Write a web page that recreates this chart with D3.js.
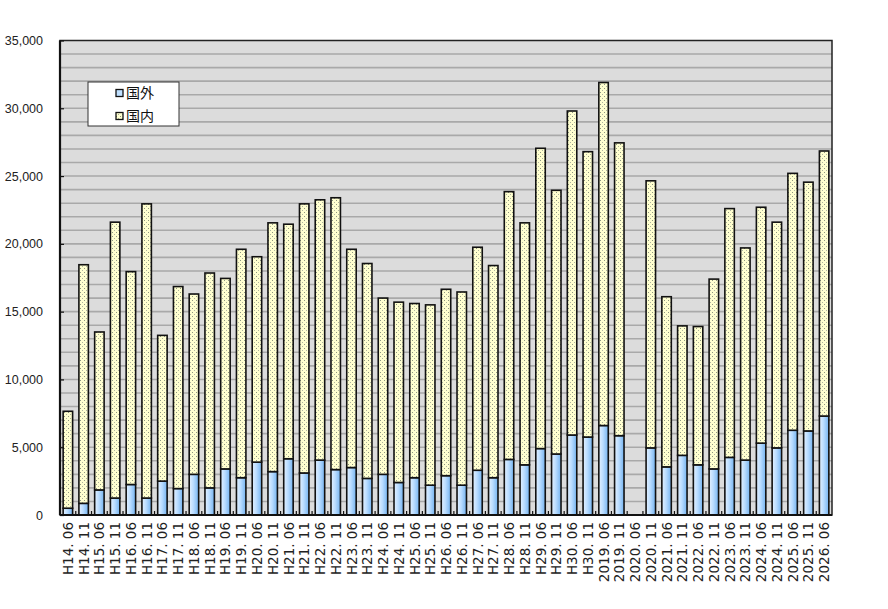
<!DOCTYPE html>
<html><head><meta charset="utf-8">
<script src="https://cdn.jsdelivr.net/npm/d3@7"></script>
<style>
html,body{margin:0;padding:0;background:#fff;}
svg{display:block;}
</style>
</head><body>
<svg id="chart" width="888" height="609"></svg>
<script>
const categories = ["H14. 06","H14. 11","H15. 06","H15. 11","H16. 06","H16. 11","H17. 06","H17. 11","H18. 06","H18. 11","H19. 06","H19. 11","H20. 06","H20. 11","H21. 06","H21. 11","H22. 06","H22. 11","H23. 06","H23. 11","H24. 06","H24. 11","H25. 06","H25. 11","H26. 06","H26. 11","H27. 06","H27. 11","H28. 06","H28. 11","H29. 06","H29. 11","H30. 06","H30. 11","2019. 06","2019. 11","2020. 06","2020. 11","2021. 06","2021. 11","2022. 06","2022. 11","2023. 06","2023. 11","2024. 06","2024. 11","2025. 06","2025. 11","2026. 06"];
const foreign = [500,860,1850,1250,2250,1250,2500,1950,3000,2000,3400,2750,3900,3200,4150,3100,4050,3350,3500,2700,3000,2400,2750,2200,2900,2200,3300,2750,4100,3700,4900,4500,5900,5750,6600,5850,0,4950,3550,4400,3700,3400,4250,4050,5300,4950,6250,6200,7300];
const domestic = [7150,17600,11650,20350,15700,21700,10750,14900,13300,15850,14050,16850,15150,18350,17300,19850,19200,20050,16100,15850,13000,13300,12850,13300,13750,14250,16450,15650,19750,17850,22150,19450,23900,21050,25300,21600,0,19700,12550,9550,10200,14000,18350,15650,17400,16650,18950,18350,19550];
const seriesNames = ["国外","国内"];
const yTicks = [0,5000,10000,15000,20000,25000,30000,35000];

const svg = d3.select("#chart");
const m = {left:60, right:832, top:40.5, bottom:515};

const defs = svg.append("defs");
const grad = defs.append("linearGradient").attr("id","blueGrad").attr("x1","0").attr("x2","1").attr("y1","0").attr("y2","0");
grad.append("stop").attr("offset","0%").attr("stop-color","#e4f1ff");
grad.append("stop").attr("offset","45%").attr("stop-color","#b9dcff");
grad.append("stop").attr("offset","100%").attr("stop-color","#74b3f0");
const pat = defs.append("pattern").attr("id","dots").attr("patternUnits","userSpaceOnUse").attr("width",4).attr("height",4);
pat.append("rect").attr("width",4).attr("height",4).attr("fill","#ffffd0");
pat.append("rect").attr("x",0).attr("y",0).attr("width",1).attr("height",1).attr("fill","#8f9680");
pat.append("rect").attr("x",2).attr("y",2).attr("width",1).attr("height",1).attr("fill","#b0b4a0");

const x = d3.scaleBand().domain(categories).range([m.left, m.right]).paddingInner(0.4).paddingOuter(0.2);
const y = d3.scaleLinear().domain([0,35000]).range([m.bottom, m.top]);

// plot background
svg.append("rect").attr("x",m.left).attr("y",m.top).attr("width",m.right-m.left).attr("height",m.bottom-m.top).attr("fill","#dcdcdc");

// gridlines
svg.append("g").selectAll("line").data(d3.range(1000,35000,1000)).join("line")
  .attr("x1",m.left).attr("x2",m.right).attr("y1",d=>y(d)).attr("y2",d=>y(d))
  .attr("stroke","#a9a9a9").attr("stroke-width",1.6);

// stacked data
const rows = categories.map((c,i)=>({cat:c, "国外":foreign[i], "国内":domestic[i]}));
const stack = d3.stack().keys(seriesNames)(rows);
const fills = {"国外":"url(#blueGrad)","国内":"url(#dots)"};

stack.forEach(layer=>{
  svg.append("g").selectAll("rect").data(layer.filter(d=>d[1]-d[0]>0)).join("rect")
    .attr("x",d=>x(d.data.cat)).attr("width",x.bandwidth())
    .attr("y",d=>y(d[1])).attr("height",d=>y(d[0])-y(d[1]))
    .attr("fill",fills[layer.key]).attr("stroke","#111").attr("stroke-width",1.6);
});

// x ticks (inside, at band boundaries)
const step = x.step();
const bounds = d3.range(1, categories.length).map(i=>x(categories[i]) - step*x.paddingInner()/2);
svg.append("g").selectAll("line").data(bounds).join("line")
  .attr("x1",d=>d).attr("x2",d=>d).attr("y1",m.bottom).attr("y2",m.bottom-4)
  .attr("stroke","#111").attr("stroke-width",1.2);

// frame
svg.append("rect").attr("x",m.left).attr("y",m.top).attr("width",m.right-m.left).attr("height",m.bottom-m.top)
  .attr("fill","none").attr("stroke","#222").attr("stroke-width",1.5);
svg.append("line").attr("x1",m.left).attr("x2",m.left).attr("y1",m.top).attr("y2",m.bottom).attr("stroke","#111").attr("stroke-width",2.2);
svg.append("line").attr("x1",m.left).attr("x2",m.right).attr("y1",m.bottom).attr("y2",m.bottom).attr("stroke","#111").attr("stroke-width",2.2);

// y axis
const yAxis = d3.axisLeft(y).tickValues(yTicks).tickSize(-4).tickPadding(17).tickFormat(d3.format(","));
const gy = svg.append("g").attr("transform",`translate(${m.left},0)`).call(yAxis);
gy.select(".domain").remove();
gy.selectAll(".tick line").attr("stroke","#111").attr("stroke-width",1.2);
gy.selectAll("text").attr("font-family","Liberation Sans, Arial, sans-serif").attr("font-size","12.5px").attr("fill","#222");

// x labels
svg.append("g").selectAll("text").data(categories).join("text")
  .attr("transform",d=>`translate(${x(d)+x.bandwidth()/2+1},522) rotate(-90)`)
  .attr("text-anchor","end").attr("dy","0.3em")
  .attr("font-family","DejaVu Sans, sans-serif").attr("font-size","13.5px").attr("fill","#222")
  .text(d=>d);

// legend
const lg = svg.append("g");
lg.append("rect").attr("x",88).attr("y",82).attr("width",91).attr("height",44).attr("fill","#fff").attr("stroke","#333").attr("stroke-width",1);
seriesNames.forEach((s,i)=>{
  const yy = 93 + i*23;
  lg.append("rect").attr("x",116).attr("y",yy-3.5).attr("width",7).attr("height",7)
    .attr("fill", i===0 ? "#bfe0ff" : "url(#dots)").attr("stroke","#111").attr("stroke-width",1.3);
  lg.append("text").attr("x",126).attr("y",yy).attr("dy","0.36em")
    .attr("font-family","Noto Sans CJK JP, sans-serif").attr("font-size","14px").attr("fill","#111").text(s);
});
</script>
</body></html>
